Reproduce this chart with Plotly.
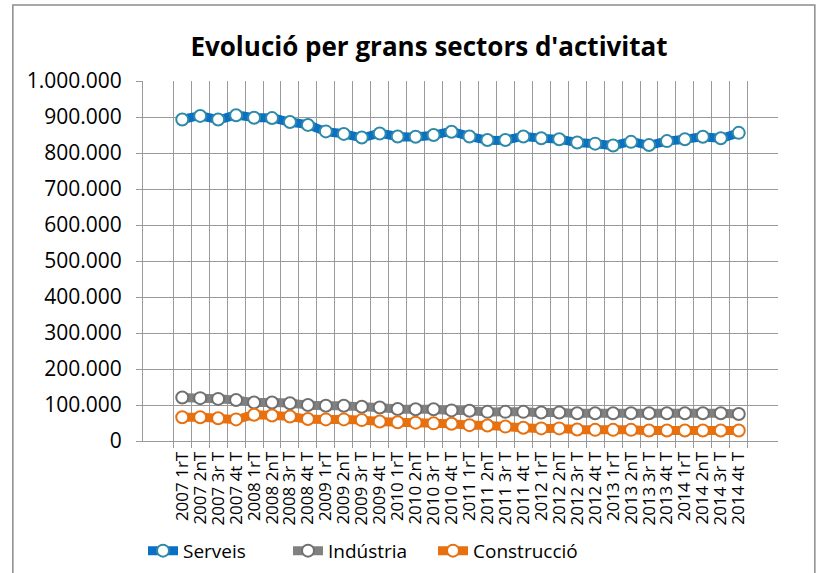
import plotly.graph_objects as go

# quarters 2007-2014
quarters = []
for year in range(2007, 2015):
    quarters += [f'{year} 1rT', f'{year} 2nT', f'{year} 3r T', f'{year} 4t T']

serveis = [893000, 903000, 893000, 905000, 898000, 897000, 886000, 878000,
           860000, 853000, 843000, 854000, 846000, 845000, 850000, 859000,
           846000, 836000, 836000, 846000, 841000, 838000, 829000, 826000,
           821000, 831000, 822000, 833000, 838000, 845000, 841000, 856000]
industria = [121000, 119000, 117000, 114000, 107000, 107000, 105000, 100000,
             98000, 98000, 95000, 93000, 89000, 88000, 88000, 85000,
             84000, 81000, 81000, 81000, 79000, 79000, 77000, 77000,
             77000, 77000, 77000, 77000, 77000, 77000, 77000, 75000]
construccio = [66000, 66000, 63000, 60000, 73000, 71000, 68000, 61000,
               60000, 60000, 58000, 54000, 52000, 51000, 49000, 48000,
               44000, 43000, 40000, 37000, 35000, 35000, 32000, 31000,
               31000, 31000, 29000, 29000, 29000, 29000, 29000, 29000]

series = [
    ('Serveis', serveis, '#0A70C4', '#2E8AA8'),
    ('Indústria', industria, '#808080', '#707070'),
    ('Construcció', construccio, '#E8700E', '#E8700E'),
]

font = 'Open Sans'
fig = go.Figure()
for name, vals, col, edge in series:
    fig.add_trace(go.Scatter(
        x=quarters, y=vals, name=name, mode='lines+markers',
        line=dict(color=col, width=9, shape='spline', smoothing=0.6),
        marker=dict(symbol='circle', size=12, color='white',
                    line=dict(color=edge, width=2)),
    ))

fig.update_layout(
    width=826, height=573,
    margin=dict(l=143, r=48, t=81, b=132, autoexpand=False),
    paper_bgcolor='white', plot_bgcolor='white',
    separators=',.',
    font=dict(family=font, color='#000000'),
    showlegend=True,
    title=dict(text="<b>Evolució per grans sectors d'activitat</b>",
               x=429 / 826, xanchor='center', xref='container',
               y=1 - 47 / 573, yanchor='middle', yref='container',
               font=dict(size=26, family=font, color='#000000')),
    legend=dict(orientation='h', x=0.0, xanchor='left', y=-0.305,
                yanchor='middle', font=dict(size=19, family=font),
                entrywidth=100, tracegroupgap=0),
    shapes=[dict(type='rect', xref='paper', yref='paper',
                 x0=-0.205, x1=1.058, y0=-0.42, y1=1.211,
                 line=dict(color='#8C8C8C', width=1.5))],
)

fig.update_xaxes(
    type='category', tickson='boundaries', tickangle=-90,
    tickmode='array', tickvals=quarters, automargin=False,
    showgrid=True, gridcolor='#9A9A9A', gridwidth=1,
    ticks='outside', ticklen=6, tickcolor='#9A9A9A',
    showline=True, linecolor='#9A9A9A', ticklabelstandoff=3,
    tickfont=dict(size=17, family=font),
)
fig.update_yaxes(
    range=[0, 1000000], tickvals=list(range(0, 1000001, 100000)),
    tickformat=',d', showgrid=True, gridcolor='#9A9A9A', gridwidth=1,
    ticks='outside', ticklen=6, tickcolor='#9A9A9A',
    showline=True, linecolor='#9A9A9A', zeroline=False,
    ticklabelstandoff=10, automargin=False,
    tickfont=dict(size=21, family=font),
)

fig.write_html('out.html', config={'displayModeBar': False},
               post_script="document.body.style.margin='0';")
